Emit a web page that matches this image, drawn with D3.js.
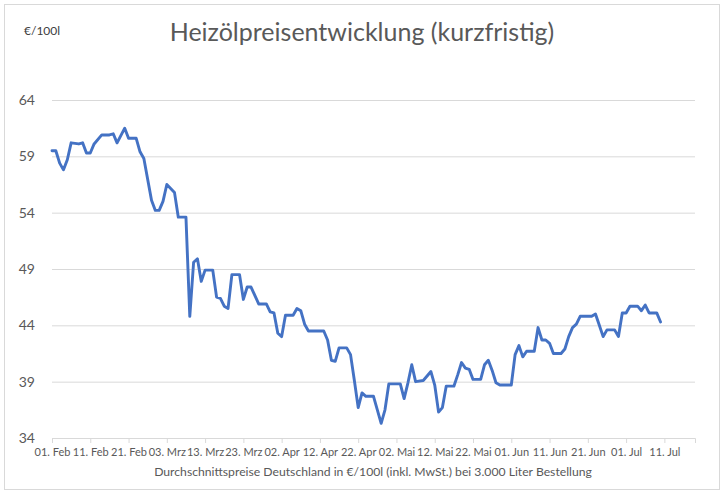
<!DOCTYPE html>
<html><head><meta charset="utf-8">
<script src="https://cdn.jsdelivr.net/npm/d3@7"></script>
<style>body{margin:0;background:#fff}svg{display:block}</style>
</head><body>
<svg id="c" width="727" height="495"></svg>
<script>
const title = "Heizölpreisentwicklung (kurzfristig)";
const unitLabel = "€/100l";
const caption = "Durchschnittspreise Deutschland in €/100l (inkl. MwSt.) bei 3.000 Liter Bestellung";
const dates = ["2021-02-01","2021-02-02","2021-02-03","2021-02-04","2021-02-05","2021-02-06","2021-02-08","2021-02-09","2021-02-10","2021-02-11","2021-02-12","2021-02-14","2021-02-16","2021-02-17","2021-02-18","2021-02-20","2021-02-21","2021-02-23","2021-02-24","2021-02-25","2021-02-27","2021-02-28","2021-03-01","2021-03-02","2021-03-03","2021-03-05","2021-03-06","2021-03-08","2021-03-09","2021-03-10","2021-03-11","2021-03-12","2021-03-13","2021-03-15","2021-03-16","2021-03-17","2021-03-18","2021-03-19","2021-03-20","2021-03-22","2021-03-23","2021-03-24","2021-03-25","2021-03-27","2021-03-29","2021-03-30","2021-03-31","2021-04-01","2021-04-02","2021-04-03","2021-04-05","2021-04-06","2021-04-07","2021-04-08","2021-04-09","2021-04-13","2021-04-14","2021-04-15","2021-04-16","2021-04-17","2021-04-19","2021-04-20","2021-04-21","2021-04-22","2021-04-23","2021-04-24","2021-04-26","2021-04-27","2021-04-28","2021-04-29","2021-04-30","2021-05-03","2021-05-04","2021-05-05","2021-05-06","2021-05-07","2021-05-09","2021-05-11","2021-05-12","2021-05-13","2021-05-14","2021-05-15","2021-05-17","2021-05-18","2021-05-19","2021-05-20","2021-05-21","2021-05-22","2021-05-24","2021-05-25","2021-05-26","2021-05-27","2021-05-28","2021-05-29","2021-06-01","2021-06-02","2021-06-03","2021-06-04","2021-06-05","2021-06-07","2021-06-08","2021-06-09","2021-06-10","2021-06-11","2021-06-12","2021-06-14","2021-06-15","2021-06-16","2021-06-17","2021-06-18","2021-06-19","2021-06-22","2021-06-23","2021-06-24","2021-06-25","2021-06-26","2021-06-28","2021-06-29","2021-06-30","2021-07-01","2021-07-02","2021-07-04","2021-07-05","2021-07-06","2021-07-07","2021-07-09","2021-07-10"];
const prices = [59.5,59.5,58.4,57.8,58.7,60.2,60.1,60.2,59.3,59.3,60.1,60.9,60.9,61.0,60.2,61.5,60.6,60.6,59.4,58.8,55.1,54.2,54.2,55.0,56.5,55.8,53.6,53.6,44.8,49.6,49.9,47.9,48.9,48.9,46.5,46.4,45.7,45.5,48.5,48.5,46.3,47.4,47.4,45.9,45.9,45.2,45.1,43.3,43.0,44.9,44.9,45.5,45.3,44.1,43.5,43.5,42.7,40.9,40.8,42.0,42.0,41.4,39.1,36.7,38.0,37.7,37.7,36.5,35.3,36.5,38.8,38.8,37.5,38.9,40.5,39.0,39.1,39.9,38.7,36.3,36.7,38.6,38.6,39.6,40.7,40.2,40.1,39.2,39.2,40.5,40.9,40.0,38.9,38.7,38.7,41.4,42.2,41.2,41.7,41.7,43.8,42.7,42.7,42.4,41.5,41.5,41.9,43.0,43.8,44.1,44.8,44.8,45.0,44.0,43.0,43.6,43.6,43.0,45.1,45.1,45.7,45.7,45.3,45.8,45.1,45.1,44.3];
const tickDates = ["2021-02-01","2021-02-11","2021-02-21","2021-03-03","2021-03-13","2021-03-23","2021-04-02","2021-04-12","2021-04-22","2021-05-02","2021-05-12","2021-05-22","2021-06-01","2021-06-11","2021-06-21","2021-07-01","2021-07-11"];
const tickLabels = ["01. Feb","11. Feb","21. Feb","03. Mrz","13. Mrz","23. Mrz","02. Apr","12. Apr","22. Apr","02. Mai","12. Mai","22. Mai","01. Jun","11. Jun","21. Jun","01. Jul","11. Jul"];
const yTicks = [34,39,44,49,54,59,64];
const xDomain = ["2021-02-01","2021-07-19"];

const parse = d3.utcParse("%Y-%m-%d");
const svg = d3.select("#c");
const font = "Lato, 'Open Sans', sans-serif";
const L = 52, R = 695, T = 100, B = 438;

svg.append("rect").attr("x",4.5).attr("y",4.5).attr("width",715).attr("height",485)
  .attr("fill","#fff").attr("stroke","#d9d9d9");

const x = d3.scaleUtc().domain(xDomain.map(parse)).range([L,R]);
const y = d3.scaleLinear().domain([34,64]).range([B,T]);

const ya = svg.append("g").attr("transform",`translate(${L},0)`)
  .call(d3.axisLeft(y).tickValues(yTicks).tickSize(-(R-L)).tickFormat(d3.format("d")).tickPadding(17));
ya.select(".domain").remove();
ya.selectAll(".tick line").attr("stroke","#d9d9d9");
ya.selectAll(".tick text").attr("fill","#595959").attr("font-size",14).attr("font-family",font);

const xa = svg.append("g").attr("transform",`translate(0,${B})`)
  .call(d3.axisBottom(x).tickValues(tickDates.map(parse)).tickSize(5).tickPadding(5)
    .tickFormat((d,i)=>tickLabels[i]));
xa.select(".domain").attr("stroke","#d9d9d9");
xa.selectAll(".tick line").attr("stroke","#d9d9d9");
xa.selectAll(".tick text").attr("fill","#595959").attr("font-size",11).attr("font-family",font);

const data = dates.map((d,i)=>({d:parse(d), v:prices[i]}));
svg.append("path").datum(data)
  .attr("fill","none").attr("stroke","#4472C4").attr("stroke-width",2.9)
  .attr("stroke-linejoin","round").attr("stroke-linecap","round")
  .attr("d", d3.line().x(p=>x(p.d)).y(p=>y(p.v)));

svg.append("text").attr("x",362).attr("y",41).attr("text-anchor","middle")
  .attr("fill","#595959").attr("font-size",25).attr("font-family",font).text(title);
svg.append("text").attr("x",24).attr("y",35)
  .attr("fill","#404040").attr("font-size",12).attr("font-family",font).text(unitLabel);
svg.append("text").attr("x",373).attr("y",476).attr("text-anchor","middle")
  .attr("fill","#595959").attr("font-size",12.2).attr("font-family",font).text(caption);
</script>
</body></html>
